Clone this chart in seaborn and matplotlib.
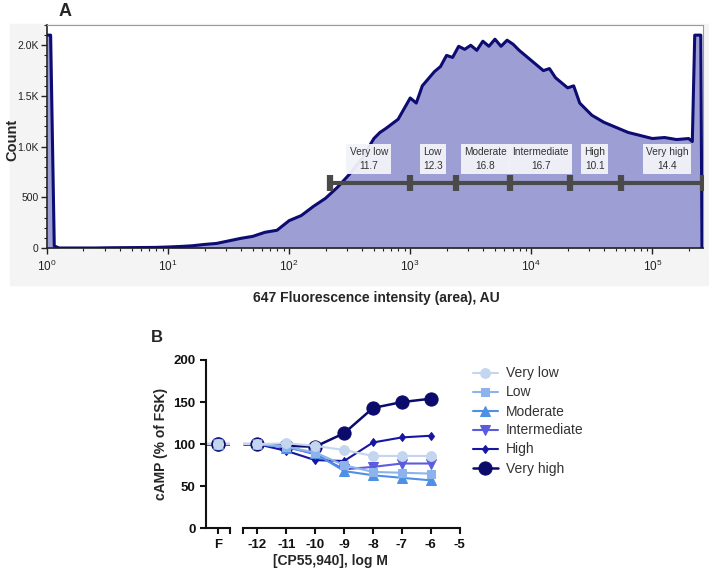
import numpy as np
import pandas as pd
import matplotlib
matplotlib.use("Agg")
import matplotlib.pyplot as plt
import matplotlib.ticker as mticker
from matplotlib.patches import Rectangle
import seaborn as sns

# --- Panel A: histogram of 647 fluorescence (log10 of intensity, count) ---
hist_log = [0.00, 0.03, 0.06, 0.10, 0.20, 0.30, 0.40, 0.50, 0.60, 0.70, 0.80, 0.90,
            1.00, 1.10, 1.20, 1.30, 1.40, 1.50, 1.60, 1.70, 1.80, 1.90,
            2.00, 2.10, 2.20, 2.30, 2.40, 2.50, 2.60, 2.70, 2.75, 2.80, 2.90,
            3.00, 3.05, 3.10, 3.20, 3.25, 3.30, 3.35, 3.40, 3.45, 3.50, 3.55, 3.60,
            3.65, 3.70, 3.75, 3.80, 3.85, 3.90, 3.95,
            4.00, 4.10, 4.15, 4.20, 4.30, 4.35, 4.40, 4.50, 4.60, 4.70, 4.80, 4.90,
            5.00, 5.10, 5.20, 5.30, 5.33, 5.35, 5.40, 5.41]
hist_count = [2100, 2100, 20, 0, 0, 0, 0, 2, 3, 4, 5, 6,
              10, 15, 22, 35, 45, 70, 95, 115, 155, 175,
              270, 320, 410, 490, 600, 730, 880, 1080, 1140, 1180, 1270,
              1480, 1430, 1600, 1740, 1790, 1900, 1880, 1990, 1960, 2000, 1950, 2040,
              1990, 2060, 1990, 2050, 2010, 1950, 1900,
              1850, 1750, 1770, 1680, 1580, 1600, 1430, 1310, 1240, 1190, 1140, 1110,
              1080, 1090, 1070, 1080, 1050, 2100, 2100, 0]

gate_edges = [216, 990, 2400, 6640, 20800, 55000, 262000]
gate_names = ["Very low", "Low", "Moderate", "Intermediate", "High", "Very high"]
gate_pct = [11.7, 12.3, 16.8, 16.7, 10.1, 14.4]
gate_label_x = [454, 1535, 4170, 11970, 33500, 131800]

# --- Panel B: cAMP response ---
conc = [-12, -11, -10, -9, -8, -7, -6]
conc_ticks = [-12, -11, -10, -9, -8, -7, -6, -5]
series_names = ["Very low", "Low", "Moderate", "Intermediate", "High", "Very high"]
f_values = [100, 100, 100, 100, 100, 100]
very_low = [100, 101, 98, 93, 86, 86, 86]
low = [100, 97, 90, 75, 67, 66, 65]
moderate = [100, 96, 89, 68, 63, 60, 57]
intermediate = [100, 97, 88, 70, 73, 77, 77]
high = [100, 92, 81, 80, 102, 108, 110]
very_high = [100, 98, 97, 113, 143, 150, 154]

series_vals = [very_low, low, moderate, intermediate, high, very_high]
colors = ["#c3d5ef", "#8cb3ec", "#4f90e4", "#5b5bdf", "#1616a2", "#0b0b6b"]
markers = ["o", "s", "^", "v", "d", "o"]
msizes = [7, 6, 6.5, 6.5, 4.5, 9.5]

sns.set_style("ticks")
plt.rcParams["font.family"] = ["Liberation Sans", "DejaVu Sans"]
plt.rcParams["mathtext.fontset"] = "custom"
plt.rcParams["mathtext.rm"] = "Liberation Sans"

fig = plt.figure(figsize=(7.09, 5.71), dpi=100)
W, H = 709, 571

def fx(px):
    return px / W

def fy(py):
    return 1 - py / H

# grey backdrop behind panel A
fig.patches.append(Rectangle((fx(10), fy(285)), fx(699), (285 - 24) / H,
                             transform=fig.transFigure, color="#f4f4f4", zorder=-5))

ax_a = fig.add_axes([fx(47), fy(248), fx(703 - 47), (248 - 25) / H])
ax_a.set_facecolor("white")
hist_x = 10 ** np.array(hist_log)
df_hist = pd.DataFrame({"intensity": hist_x, "count": hist_count})
ax_a.fill_between(df_hist["intensity"], df_hist["count"], color="#9d9fd4", lw=0, zorder=1)
sns.lineplot(data=df_hist, x="intensity", y="count", ax=ax_a, color="#0c0c72",
             lw=2.2, sort=False, estimator=None, zorder=3)
ax_a.set_xscale("log")
ax_a.set_xlim(1, 262000)
ax_a.set_ylim(0, 2200)
ax_a.set_xlabel("")
ax_a.set_ylabel("")
ax_a.yaxis.set_major_locator(mticker.FixedLocator([0, 500, 1000, 1500, 2000]))
ax_a.set_yticklabels(["0", "500", "1.0K", "1.5K", "2.0K"])
ax_a.yaxis.set_minor_locator(mticker.MultipleLocator(100))
ax_a.xaxis.set_major_locator(mticker.LogLocator(base=10, numticks=10))
ax_a.xaxis.set_minor_locator(mticker.LogLocator(base=10, subs=np.arange(2, 10), numticks=10))
ax_a.xaxis.set_minor_formatter(mticker.NullFormatter())
ax_a.tick_params(axis="both", which="major", labelsize=7.5, length=4, width=1,
                 colors="#222222", pad=2)
ax_a.tick_params(axis="x", which="major", labelsize=8.5, pad=4)
ax_a.tick_params(axis="both", which="minor", length=2.5, width=0.8, colors="#222222")
for side in ["left", "bottom"]:
    ax_a.spines[side].set_color("#222222")
    ax_a.spines[side].set_linewidth(1.2)
for side in ["top", "right"]:
    ax_a.spines[side].set_color("#999999")
    ax_a.spines[side].set_linewidth(0.8)

# gate bar
ax_a.plot([gate_edges[0], gate_edges[-1]], [640, 640], color="#4a4a4a", lw=3, zorder=4,
          solid_capstyle="butt")
ax_a.plot(gate_edges, [640] * len(gate_edges), ls="none", marker="|", ms=11, mew=4.5,
          color="#4a4a4a", zorder=5)
for name, pct, gx in zip(gate_names, gate_pct, gate_label_x):
    ax_a.text(gx, 880, f"{name}\n{pct}", ha="center", va="center", fontsize=7.3,
              color="#333333", linespacing=1.45, zorder=6,
              bbox=dict(boxstyle="square,pad=0.3", fc="#f3f3fa", ec="none", alpha=0.95))

fig.text(fx(65), fy(12), "A", fontsize=13, fontweight="bold", ha="center", va="center")
fig.text(fx(12), fy(140), "Count", fontsize=10.5, fontweight="bold", rotation=90,
         ha="center", va="center")
fig.text(fx(376), fy(298), "647 Fluorescence intensity (area), AU", fontsize=10,
         fontweight="bold", ha="center", va="center")

# --- Panel B ---
ax_f = fig.add_axes([fx(206), fy(528.3), fx(24), (528.3 - 360) / H])
ax_b = fig.add_axes([fx(243), fy(528.3), fx(216.7), (528.3 - 360) / H])

for vals, name, c, m, ms, fval in list(zip(series_vals, series_names, colors, markers,
                                            msizes, f_values))[::-1]:
    lw = 1.8 if name == "Very high" else 1.5
    sns.lineplot(x=conc, y=vals, ax=ax_b, color=c, marker=m, markersize=ms,
                 markeredgecolor=c, lw=lw, label=name, zorder=3)
    ax_b.hlines(vals[0], -12.5, conc[0], color=c, lw=lw, zorder=2)
    ax_f.hlines(fval, -0.5, 0.5, color=c, lw=lw, zorder=2)
    ax_f.plot([0], [fval], marker=m, ms=ms, color=c, mec=c, ls="none", zorder=3,
              clip_on=False)

handles, labels = ax_b.get_legend_handles_labels()
ax_b.get_legend().remove()
fig.legend(handles[::-1], labels[::-1], loc="upper left",
           bbox_to_anchor=(fx(460), fy(354)), frameon=False, fontsize=10,
           handlelength=1.8, handletextpad=0.6, labelspacing=0.36,
           labelcolor="#333333")

for ax in (ax_f, ax_b):
    ax.set_ylim(0, 200)
    ax.spines["top"].set_visible(False)
    ax.spines["right"].set_visible(False)
    ax.spines["bottom"].set_linewidth(1.5)
    ax.spines["left"].set_linewidth(1.5)
    ax.spines["bottom"].set_color("#111111")
    ax.spines["left"].set_color("#111111")
    ax.tick_params(axis="both", length=4, width=1.5, colors="#111111", labelsize=9.5)
    ax.set_xlabel("")
    ax.set_ylabel("")
    ax.set_facecolor("none")

ax_f.set_xlim(-0.5, 0.5)
ax_f.set_xticks([0, 0.5])
ax_f.set_xticklabels(["F", ""], fontweight="bold")
ax_f.set_yticks([0, 50, 100, 150, 200])
ax_f.set_yticklabels(["0", "50", "100", "150", "200"], fontweight="bold")
ax_f.set_ylabel("cAMP (% of FSK)", fontsize=10, fontweight="bold", labelpad=4)

ax_b.set_xlim(-12.5, -5)
ax_b.set_xticks([-12.5] + conc_ticks)
ax_b.set_xticklabels([""] + [str(t) for t in conc_ticks], fontweight="bold")
ax_b.spines["left"].set_visible(False)
ax_b.tick_params(axis="y", left=False, labelleft=False)

fig.text(fx(157), fy(338), "B", fontsize=12, fontweight="bold", ha="center", va="center")
fig.text(fx(330), fy(561), "[CP55,940], log M", fontsize=10, fontweight="bold",
         ha="center", va="center")

fig.savefig("out.png", dpi=100)
